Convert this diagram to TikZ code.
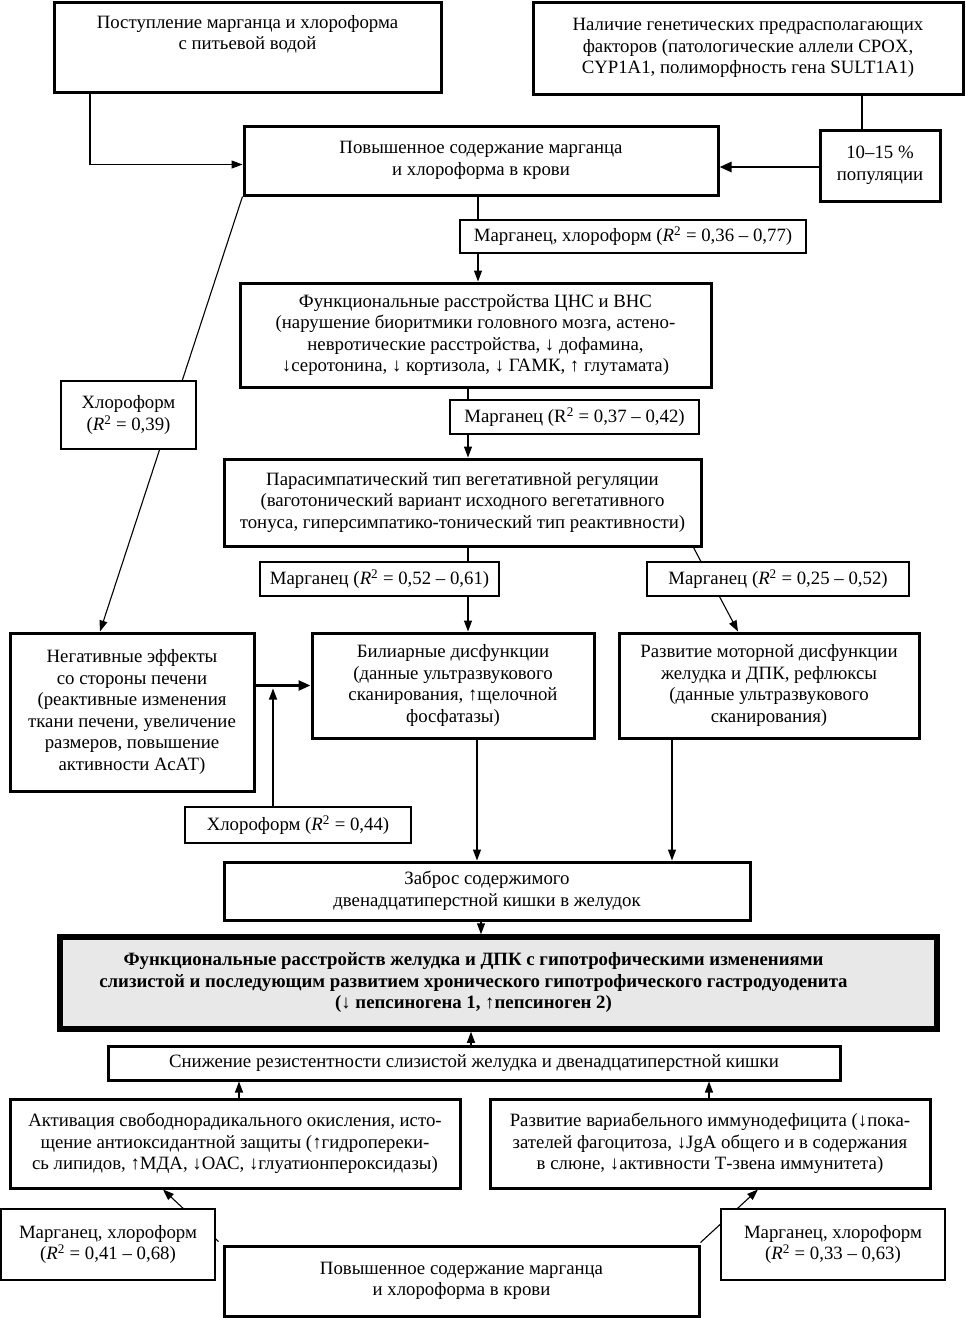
\documentclass[tikz,border=0pt]{standalone}
\usepackage{fontspec}
\setmainfont{Liberation Serif}
\usetikzlibrary{arrows.meta}
\pgfdeclarelayer{bg}
\pgfsetlayers{bg,main}
\begin{document}
\begin{tikzpicture}[x=1pt,y=-1pt,
  every node/.style={font=\fontsize{18.8}{21.5}\selectfont, align=center, inner sep=0pt},
  box/.style={draw, line width=3pt, fill=white},
  lab/.style={draw, line width=1.2pt, fill=white},
  keybox/.style={draw, line width=5.5pt, fill=black!9, font=\bfseries\fontsize{18.8}{21.5}\selectfont},
  con/.style={line width=1.1pt},
  arr/.style={con, -{Triangle[length=11pt,width=8pt]}},
  thickarr/.style={line width=2.6pt, -{Triangle[length=12pt,width=10pt]}}
]
\useasboundingbox (0,0) rectangle (966,1318);

\node[box, minimum width=387pt, minimum height=90pt] (A) at (247.5,47) {Поступление марганца и хлороформа\\с питьевой водой\\[8pt]\mbox{}};
\node[box, minimum width=430pt, minimum height=92pt] (B) at (748,48) {Наличие генетических предрасполагающих\\факторов (патологические аллели CPOX,\\CYP1A1, полиморфность гена SULT1A1)};
\node[box, minimum width=120pt, minimum height=71pt] (C) at (880,165.5) {10–15 \%\\популяции};
\node[box, minimum width=474pt, minimum height=69pt] (D) at (481,160.5) {Повышенное содержание марганца\\и хлороформа в крови};
\node[lab, minimum width=346pt, minimum height=33pt] (E) at (633,236.5) {Марганец, хлороформ (\textit{R}\textsuperscript{2} = 0,36 – 0,77)};
\node[box, minimum width=471pt, minimum height=104pt] (F) at (475.5,335) {Функциональные расстройства ЦНС и ВНС\\(нарушение биоритмики головного мозга, астено-\\невротические расстройства, ↓ дофамина,\\↓серотонина, ↓ кортизола, ↓ ГАМК, ↑ глутамата)};
\node[lab, minimum width=249pt, minimum height=34pt] (G) at (574.5,417) {Марганец (R\textsuperscript{2} = 0,37 – 0,42)};
\node[box, minimum width=477pt, minimum height=87pt] (H) at (462.5,502.5) {Парасимпатический тип вегетативной регуляции\\(ваготонический вариант исходного вегетативного\\тонуса, гиперсимпатико-тонический тип реактивности)};
\node[lab, minimum width=239pt, minimum height=34pt] (I) at (379.5,579) {Марганец (\textit{R}\textsuperscript{2} = 0,52 – 0,61)};
\node[lab, minimum width=262pt, minimum height=34pt] (K) at (778,579) {Марганец (\textit{R}\textsuperscript{2} = 0,25 – 0,52)};
\node[lab, minimum width=135pt, minimum height=68pt] (N) at (128.5,415) {Хлороформ\\(\textit{R}\textsuperscript{2} = 0,39)};
\node[box, minimum width=244pt, minimum height=158pt] (M) at (132,712) {Негативные эффекты\\со стороны печени\\(реактивные изменения\\ткани печени, увеличение\\размеров, повышение\\активности АсАТ)};
\node[box, minimum width=282pt, minimum height=105pt] (J) at (453,685.5) {Билиарные дисфункции\\(данные ультразвукового\\сканирования, ↑щелочной\\фосфатазы)};
\node[box, minimum width=300pt, minimum height=105pt] (L) at (769,685.5) {Развитие моторной дисфункции\\желудка и ДПК, рефлюксы\\(данные ультразвукового\\сканирования)};
\node[lab, minimum width=226pt, minimum height=36pt] (O) at (298,825) {Хлороформ (\textit{R}\textsuperscript{2} = 0,44)};
\node[box, minimum width=526pt, minimum height=58pt] (P) at (487,891) {Заброс содержимого\\двенадцатиперстной кишки в желудок};
\node[keybox, minimum width=877pt, minimum height=92pt] (Q) at (498.5,983) {\begin{tabular}{@{}c@{\hspace{50pt}}}Функциональные расстройств желудка и ДПК с гипотрофическими изменениями\\слизистой и последующим развитием хронического гипотрофического гастродуоденита\\(↓ пепсиногена 1, ↑пепсиноген 2)\end{tabular}};
\node[box, minimum width=732pt, minimum height=34pt] (R) at (474,1063) {Снижение резистентности слизистой желудка и двенадцатиперстной кишки};
\node[box, minimum width=450pt, minimum height=89pt] (S) at (235,1143.5) {Активация свободнорадикального окисления, исто-\\щение антиоксидантной защиты (↑гидропереки-\\сь липидов, ↑МДА, ↓ОАС, ↓глуатионпероксидазы)};
\node[box, minimum width=440pt, minimum height=89pt] (T) at (710,1143.5) {Развитие вариабельного иммунодефицита (↓пока-\\зателей фагоцитоза, ↓JgA общего и в содержания\\в слюне, ↓активности Т-звена иммунитета)};
\node[lab, minimum width=214pt, minimum height=71pt] (U) at (108,1244.5) {Марганец, хлороформ\\(\textit{R}\textsuperscript{2} = 0,41 – 0,68)};
\node[lab, minimum width=224pt, minimum height=71pt] (V) at (833,1244.5) {Марганец, хлороформ\\(\textit{R}\textsuperscript{2} = 0,33 – 0,63)};
\node[box, minimum width=475pt, minimum height=70pt] (W) at (461.5,1281) {Повышенное содержание марганца\\и хлороформа в крови};

\begin{pgfonlayer}{bg}
  \draw[arr] ([xshift=-157.5pt]A.south) |- ([yshift=-4pt]D.west);
  \draw[con] ([xshift=-18pt]C.north) -- ([xshift=-18pt]C.north |- B.south);
  \draw[thickarr] ([yshift=-1.5pt]C.west) -- ([yshift=-1.5pt]C.west -| D.east);
  \draw[arr] ([xshift=-3pt]D.south) -- ([xshift=-3pt]D.south |- F.north);
  \draw[arr] ([xshift=-7.5pt]F.south) -- ([xshift=-7.5pt]F.south |- H.north);
  \draw[arr] ([xshift=15pt]J.north |- H.south) -- ([xshift=15pt]J.north);
  \draw[arr] ([xshift=-9pt]H.south east) -- ([xshift=-31pt]L.north);
  \draw[arr] (D.south west) -- ([xshift=-32pt]M.north);
  \draw[thickarr] (J.west -| M.east) -- (J.west);
  \draw[arr] ([xshift=-25pt]O.north) -- ([xshift=-25pt,yshift=-3pt]O.north |- J.west);
  \draw[arr] ([xshift=24pt]J.south) -- ([xshift=24pt]J.south |- P.north);
  \draw[arr] ([xshift=-97pt]L.south) -- ([xshift=-97pt]L.south |- P.north);
  \draw[arr] ([xshift=-6pt]P.south) -- ([xshift=-6pt]P.south |- Q.north);
  \draw[arr] ([xshift=-3pt]R.north) -- ([xshift=-3pt]R.north |- Q.south);
  \draw[arr] ([xshift=4pt]S.north) -- ([xshift=4pt]S.north |- R.south);
  \draw[arr] ([xshift=-1pt]T.north) -- ([xshift=-1pt]T.north |- R.south);
  \draw[arr] ([xshift=-4pt,yshift=3pt]W.north west) -- ([xshift=-72pt]S.south);
  \draw[arr] ([yshift=2pt]W.north east) -- ([xshift=48pt]T.south);
\end{pgfonlayer}
\end{tikzpicture}
\end{document}
